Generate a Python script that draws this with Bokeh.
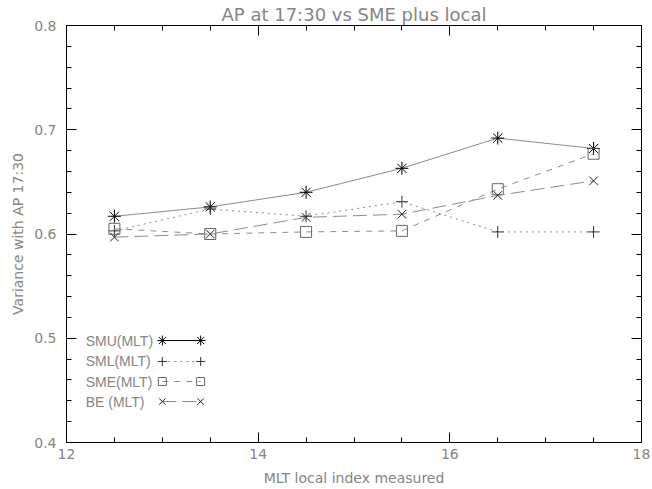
from bokeh.plotting import figure
from bokeh.models import LinearAxis, Range1d, FixedTicker
from bokeh.embed import file_html
from bokeh.resources import INLINE
from bokeh.core.properties import value

# ---- data ----
mlt = [12.5, 13.5, 14.5, 15.5, 16.5, 17.5]
smu = [0.617, 0.626, 0.640, 0.663, 0.692, 0.682]
sml = [0.603, 0.624, 0.617, 0.631, 0.602, 0.602]
sme = [0.605, 0.600, 0.602, 0.603, 0.643, 0.677]
be = [0.597, 0.600, 0.616, 0.619, 0.637, 0.651]
series_names = ["SMU(MLT)", "SML(MLT)", "SME(MLT)", "BE (MLT)"]
x_ticks = [12, 14, 16, 18]
y_ticks = [0.4, 0.5, 0.6, 0.7, 0.8]

FONT = "DejaVu Sans"
TXT = "#858585"
LINE = "#8c8c8c"

p = figure(frame_width=575, frame_height=417, output_backend="svg", toolbar_location=None,
           x_range=Range1d(12, 18), y_range=Range1d(0.4, 0.8),
           min_border_left=66, min_border_right=10, min_border_top=25, min_border_bottom=45)
p.title.text = "AP at 17:30 vs SME plus local"
p.title.align = "center"
p.title.text_font = FONT
p.title.text_font_style = "normal"
p.title.text_font_size = "18px"
p.title.text_color = TXT
p.title.standoff = 1
p.grid.visible = False
p.outline_line_color = None
p.background_fill_color = "white"
p.border_fill_color = "white"

def style(ax, labels=True):
    ax.axis_line_color = "black"
    ax.major_tick_line_color = "black"
    ax.minor_tick_line_color = "black"
    ax.major_tick_in = 10
    ax.major_tick_out = 0
    ax.minor_tick_in = 5
    ax.minor_tick_out = 0
    ax.major_label_text_font = FONT
    ax.major_label_text_font_size = "14px" if labels else "0px"
    ax.major_label_text_color = TXT if labels else None
    ax.axis_label_text_font = FONT
    ax.axis_label_text_font_style = "normal"
    ax.axis_label_text_font_size = "14px"
    ax.axis_label_text_color = TXT
    if not labels:
        ax.major_label_standoff = 0

xt = FixedTicker(ticks=x_ticks, minor_ticks=[12 + 0.5 * i for i in range(13)])
yt = FixedTicker(ticks=y_ticks, minor_ticks=[round(0.4 + 0.02 * i, 2) for i in range(21)])

p.xaxis.ticker = xt
p.yaxis.ticker = yt
style(p.xaxis[0]); style(p.yaxis[0])
p.xaxis.axis_label = "MLT local index measured"
p.yaxis.axis_label = "Variance with AP 17:30"
p.xaxis.major_label_standoff = 6
p.xaxis.axis_label_standoff = 8
p.yaxis.major_label_standoff = 10
p.yaxis.axis_label_standoff = 5

top = LinearAxis(ticker=FixedTicker(ticks=x_ticks, minor_ticks=xt.minor_ticks))
style(top, labels=False)
p.add_layout(top, "above")
right = LinearAxis(ticker=FixedTicker(ticks=y_ticks, minor_ticks=yt.minor_ticks))
style(right, labels=False)
p.add_layout(right, "right")

# ---- series ----
specs = [
    (smu, "solid", "asterisk", 13, "black"),
    (sml, "dotted", "cross", 12, "#333333"),
    (sme, "6 6", "square", 11, "#666666"),
    (be, "14 6", "x", 12, "#222222"),
]
for ys, dash, mk, sz, mc in specs:
    p.line(mlt, ys, line_color=LINE, line_width=1, line_dash=dash)
    p.scatter(mlt, ys, marker=mk, size=sz, line_color=mc, fill_color=None, line_width=1)

# ---- legend (IDL style: text then line with markers at both ends) ----
leg_y = [0.4978, 0.4777, 0.4585, 0.4393]
lx0, lx1, tx = 13.00, 13.40, 12.20
for (ys, dash, mk, sz, mc), name, ly in zip(specs, series_names, leg_y):
    p.line([lx0, lx1], [ly, ly], line_color=LINE if dash != "solid" else "black",
           line_width=1, line_dash=dash)
    p.scatter([lx0, lx1], [ly, ly], marker=mk, size=sz - 3, line_color=mc, fill_color=None)
    p.text([tx], [ly], text=[name], text_font=value("Liberation Sans"), text_font_size="14px",
           text_color=TXT, text_baseline="middle", text_align="left")

open("out.html", "w").write(file_html(p, INLINE))
